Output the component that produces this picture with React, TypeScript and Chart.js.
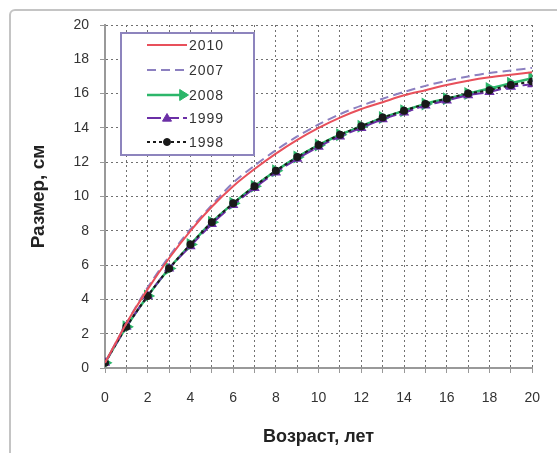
import React, { useEffect, useRef } from 'react';
import { Chart, registerables } from 'chart.js';

Chart.register(...registerables);

const ages = [0, 1, 2, 3, 4, 5, 6, 7, 8, 9, 10, 11, 12, 13, 14, 15, 16, 17, 18, 19, 20];
const evenTickLabels = ['0', '2', '4', '6', '8', '10', '12', '14', '16', '18', '20'];

const series2010 = [0.3, 2.6, 4.6, 6.4, 8.0, 9.4, 10.6, 11.6, 12.5, 13.3, 14.0, 14.6, 15.1, 15.5, 15.9, 16.2, 16.5, 16.75, 16.95, 17.1, 17.25];
const series2007 = [0.3, 2.6, 4.7, 6.5, 8.1, 9.5, 10.8, 11.8, 12.7, 13.5, 14.2, 14.8, 15.3, 15.7, 16.1, 16.45, 16.75, 17.0, 17.2, 17.35, 17.5];
const series2008 = [0.3, 2.4, 4.2, 5.8, 7.2, 8.5, 9.6, 10.6, 11.5, 12.3, 13.0, 13.6, 14.1, 14.6, 15.0, 15.4, 15.7, 16.0, 16.3, 16.6, 16.9];
const series1999 = [0.3, 2.4, 4.2, 5.8, 7.1, 8.4, 9.5, 10.5, 11.4, 12.2, 12.9, 13.5, 14.0, 14.5, 14.9, 15.3, 15.6, 15.9, 16.1, 16.4, 16.55];
const series1998 = [0.3, 2.4, 4.2, 5.8, 7.2, 8.5, 9.6, 10.6, 11.5, 12.3, 13.0, 13.6, 14.1, 14.6, 15.0, 15.4, 15.7, 16.0, 16.2, 16.5, 16.7];

const seriesNames = ['2010', '2007', '2008', '1999', '1998'];

const insideLegend = {
  id: 'insideLegend',
  afterDraw(chart: any) {
    const { ctx, chartArea } = chart;
    const bx = chartArea.left + 16;
    const by = chartArea.top + 8;
    const bw = 133;
    const bh = 122;
    ctx.save();
    ctx.fillStyle = '#ffffff';
    ctx.fillRect(bx, by, bw, bh);
    ctx.strokeStyle = '#8d84bd';
    ctx.lineWidth = 2;
    ctx.setLineDash([]);
    ctx.strokeRect(bx, by, bw, bh);
    const rows = [12, 37, 62, 85, 109];
    chart.data.datasets.forEach((ds: any, i: number) => {
      const y = by + rows[i];
      const x0 = bx + 26;
      const x1 = bx + 66;
      ctx.strokeStyle = ds.borderColor;
      ctx.lineWidth = ds.borderWidth;
      ctx.setLineDash(ds.borderDash || []);
      ctx.beginPath();
      ctx.moveTo(x0, y);
      ctx.lineTo(x1, y);
      ctx.stroke();
      ctx.setLineDash([]);
      if (ds.pointRadius > 0) {
        const mx = ds.legendMarkerEnd ? x1 - 4 : (x0 + x1) / 2;
        ctx.fillStyle = ds.pointBackgroundColor;
        ctx.strokeStyle = ds.pointBorderColor;
        ctx.lineWidth = 1;
        const r = ds.pointRadius + 0.5;
        ctx.beginPath();
        if (ds.pointStyle === 'circle') {
          ctx.arc(mx, y, r, 0, Math.PI * 2);
        } else if (ds.pointStyle === 'triangle' && ds.pointRotation === 90) {
          ctx.moveTo(mx + r, y);
          ctx.lineTo(mx - r * 0.6, y - r);
          ctx.lineTo(mx - r * 0.6, y + r);
          ctx.closePath();
        } else {
          ctx.moveTo(mx, y - r);
          ctx.lineTo(mx + r, y + r * 0.7);
          ctx.lineTo(mx - r, y + r * 0.7);
          ctx.closePath();
        }
        ctx.fill();
        ctx.stroke();
      }
      ctx.fillStyle = '#333333';
      ctx.font = '14px Arial, "Liberation Sans", sans-serif';
      (ctx as any).letterSpacing = '1px';
      ctx.textAlign = 'left';
      ctx.textBaseline = 'middle';
      ctx.fillText(ds.label, x1 + 2, y + 1);
      (ctx as any).letterSpacing = '0px';
    });
    ctx.restore();
  },
};

export default function App() {
  const canvasRef = useRef<HTMLCanvasElement | null>(null);

  useEffect(() => {
    const canvas = canvasRef.current;
    if (!canvas) return;
    const chart = new Chart(canvas, {
      type: 'line',
      data: {
        labels: ages,
        datasets: [
          {
            label: seriesNames[0],
            data: series2010,
            borderColor: '#e8505b',
            backgroundColor: '#e8505b',
            borderWidth: 2,
            pointRadius: 0,
            tension: 0.3,
            order: 1,
          },
          {
            label: seriesNames[1],
            data: series2007,
            borderColor: '#8c80c0',
            backgroundColor: '#8c80c0',
            borderWidth: 2,
            borderDash: [9, 5],
            pointRadius: 0,
            tension: 0.3,
            order: 2,
          },
          {
            label: seriesNames[2],
            data: series2008,
            borderColor: '#2cb66a',
            backgroundColor: '#2cb66a',
            borderWidth: 2.5,
            pointStyle: 'triangle',
            pointRotation: 90,
            pointRadius: 5,
            pointBackgroundColor: '#2cb66a',
            pointBorderColor: '#2cb66a',
            legendMarkerEnd: true,
            tension: 0.3,
            order: 5,
          } as any,
          {
            label: seriesNames[3],
            data: series1999,
            borderColor: '#6b2fa6',
            backgroundColor: '#6b2fa6',
            borderWidth: 2,
            borderDash: [14, 4],
            pointStyle: 'triangle',
            pointRadius: 4,
            pointBackgroundColor: '#6b2fa6',
            pointBorderColor: '#6b2fa6',
            tension: 0.3,
            order: 4,
          },
          {
            label: seriesNames[4],
            data: series1998,
            borderColor: '#1a1a1a',
            backgroundColor: '#1a1a1a',
            borderWidth: 2,
            borderDash: [3, 3],
            pointStyle: 'circle',
            pointRadius: 3,
            pointBackgroundColor: '#1a1a1a',
            pointBorderColor: '#1a1a1a',
            tension: 0.3,
            order: 3,
          },
        ],
      },
      options: {
        animation: false,
        responsive: false,
        devicePixelRatio: 1,
        layout: { padding: { left: 0, right: 12, top: 25, bottom: 0 } },
        plugins: {
          legend: { display: false },
          tooltip: { enabled: false },
        },
        scales: {
          x: {
            type: 'linear',
            min: 0,
            max: 20,
            afterFit: (scale: any) => {
              scale.height = 85;
            },
            ticks: {
              stepSize: 1,
              padding: 17,
              color: '#333333',
              font: { size: 14, family: 'Arial, "Liberation Sans", sans-serif' },
              autoSkip: false,
              maxRotation: 0,
              callback: (v: any) => {
                const s = String(v);
                return evenTickLabels.includes(s) ? s : '';
              },
            },
            grid: {
              color: '#707070',
              lineWidth: 1,
              tickLength: 5,
              tickColor: '#999999',
              drawTicks: true,
            },
            border: { display: true, color: '#999999', width: 2, dash: [2, 3] },
            title: {
              display: true,
              text: 'Возраст, лет',
              color: '#222222',
              font: { size: 18, weight: 'bold', family: 'Arial, "Liberation Sans", sans-serif' },
              padding: { top: 0, bottom: 5 },
            },
          },
          y: {
            type: 'linear',
            min: 0,
            max: 20,
            afterFit: (scale: any) => {
              scale.width = 105;
            },
            ticks: {
              stepSize: 2,
              padding: 11,
              color: '#333333',
              font: { size: 14, family: 'Arial, "Liberation Sans", sans-serif' },
            },
            grid: {
              color: '#707070',
              lineWidth: 1,
              tickLength: 5,
              tickColor: '#999999',
              drawTicks: true,
            },
            border: { display: true, color: '#999999', width: 2, dash: [2, 3] },
            title: {
              display: true,
              text: 'Размер, см',
              color: '#222222',
              font: { size: 19, weight: 'bold', family: 'Arial, "Liberation Sans", sans-serif' },
              padding: { top: 27, bottom: 0 },
            },
          },
        },
      },
      plugins: [insideLegend],
    } as any);
    return () => chart.destroy();
  }, []);

  return (
    <div
      style={{
        position: 'fixed',
        left: 0,
        top: 0,
        width: 557,
        height: 453,
        overflow: 'hidden',
        background: '#ffffff',
      }}
    >
      <div
        style={{
          position: 'absolute',
          left: 9,
          top: 9,
          width: 620,
          height: 520,
          border: '2px solid #c4c4c4',
          borderRadius: 6,
        }}
      />
      <canvas
        ref={canvasRef}
        width={557}
        height={453}
        style={{ position: 'absolute', left: 0, top: 0, width: 557, height: 453 }}
      />
    </div>
  );
}
